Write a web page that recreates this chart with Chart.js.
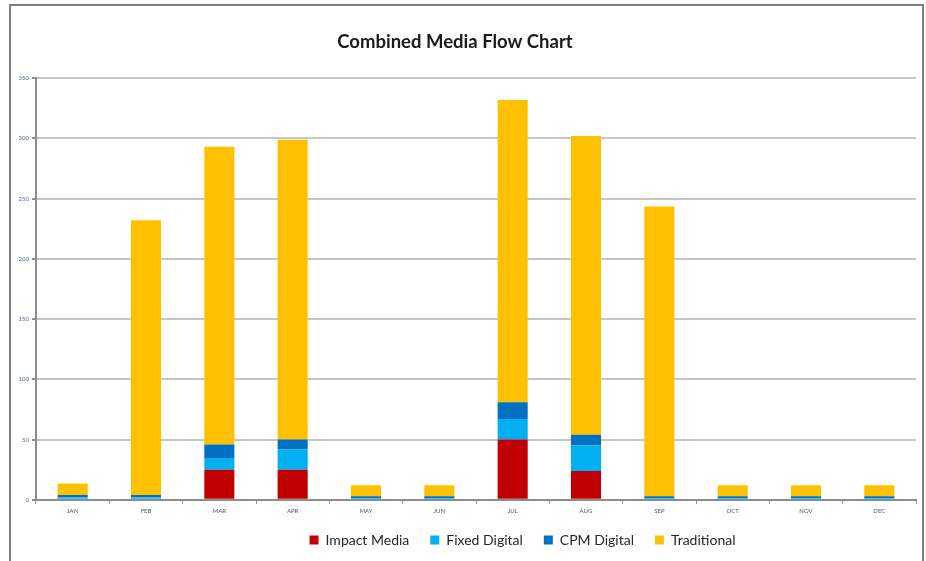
<!DOCTYPE html>
<html>
<head>
<meta charset="utf-8">
<title>Combined Media Flow Chart</title>
<script src="https://cdn.jsdelivr.net/npm/chart.js@4.4.1/dist/chart.umd.min.js"></script>
<style>
  html, body { margin: 0; padding: 0; background: #fff; }
  #wrap { width: 926px; height: 561px; position: relative; }
</style>
</head>
<body>
<div id="wrap"><canvas id="mediaChart"></canvas></div>
<script>
// Dados do gráfico
const months = ['JAN', 'FEB', 'MAR', 'APR', 'MAY', 'JUN', 'JUL', 'AUG', 'SEP', 'OCT', 'NOV', 'DEC'];
const impactMedia  = [0, 0, 25, 25, 0, 0, 50, 24, 0, 0, 0, 0];
const fixedDigital = [2, 2, 9, 17, 1.5, 1.5, 17, 21, 1.5, 1.5, 1.5, 1.5];
const cpmDigital   = [2, 2, 12, 8, 1.5, 1.5, 14, 9, 1.5, 1.5, 1.5, 1.5];
const traditional  = [9.5, 228, 247, 249, 9, 9, 251, 248, 240.5, 9, 9, 9];
const yTicks = [0, 50, 100, 150, 200, 250, 300, 350];

// Moldura cinza em volta do gráfico + ajuste de posição do título/legenda
const framePlugin = {
    id: 'frame',
    beforeDraw(chart) {
        const ctx = chart.ctx;
        ctx.save();
        ctx.fillStyle = '#fff';
        ctx.fillRect(0, 0, chart.width, chart.height);
        ctx.strokeStyle = '#808080';
        ctx.lineWidth = 2;
        ctx.beginPath();
        ctx.moveTo(10, chart.height);
        ctx.lineTo(10, 5);
        ctx.lineTo(923, 5);
        ctx.lineTo(923, chart.height);
        ctx.stroke();
        ctx.restore();
    },
    afterLayout(chart) {
        chart.legend.left += 64.5;
        chart.legend.right += 64.5;
        chart.legend.top -= 7;
        chart.legend.bottom -= 7;
        chart.titleBlock.left -= 3;
        chart.titleBlock.right -= 3;
    }
};

const chartData = {
    labels: months,
    datasets: [{
        label: 'Impact Media',
        data: impactMedia,
        backgroundColor: '#C00000'
    }, {
        label: 'Fixed Digital',
        data: fixedDigital,
        backgroundColor: '#00B0F0'
    }, {
        label: 'CPM Digital',
        data: cpmDigital,
        backgroundColor: '#0070C0'
    }, {
        label: 'Traditional',
        data: traditional,
        backgroundColor: '#FFC000'
    }]
};

const chartConfig = {
    type: 'bar',
    data: chartData,
    options: {
        responsive: true,
        maintainAspectRatio: false,
        animation: false,
        datasets: {
            bar: {
                barPercentage: 0.41,
                categoryPercentage: 1,
                borderWidth: 0
            }
        },
        layout: {
            padding: { left: 0, right: 10, top: 0, bottom: -3 }
        },
        plugins: {
            title: {
                display: true,
                text: 'Combined Media Flow Chart',
                color: '#1a1a1a',
                font: { family: 'Lato', size: 18.5, weight: 'bold' },
                padding: { top: 31, bottom: 25 }
            },
            legend: {
                position: 'bottom',
                labels: {
                    color: '#262626',
                    font: { family: 'Lato', size: 14 },
                    boxWidth: 9,
                    boxHeight: 9,
                    padding: 21
                }
            },
            tooltip: { enabled: false }
        },
        scales: {
            x: {
                stacked: true,
                grid: {
                    display: true,
                    drawOnChartArea: false,
                    drawTicks: true,
                    tickLength: 4,
                    color: '#8c8c8c'
                },
                border: { color: '#8c8c8c', width: 2 },
                ticks: {
                    color: '#555',
                    font: { family: 'Lato', size: 6 },
                    padding: 4,
                    maxRotation: 0
                }
            },
            y: {
                stacked: true,
                min: 0,
                max: 350,
                afterFit(scale) { scale.width = 36; },
                afterBuildTicks(scale) {
                    scale.ticks = yTicks.map(v => ({ value: v }));
                },
                grid: {
                    color: '#c6c6c6',
                    lineWidth: 2,
                    tickLength: 4,
                    tickColor: '#8c8c8c'
                },
                border: { color: '#8c8c8c', width: 2 },
                ticks: {
                    color: '#4f6b9a',
                    font: { family: 'Lato', size: 6 },
                    padding: 3
                }
            }
        }
    },
    plugins: [framePlugin]
};

const mediaChart = new Chart(document.getElementById('mediaChart'), chartConfig);
</script>
</body>
</html>
